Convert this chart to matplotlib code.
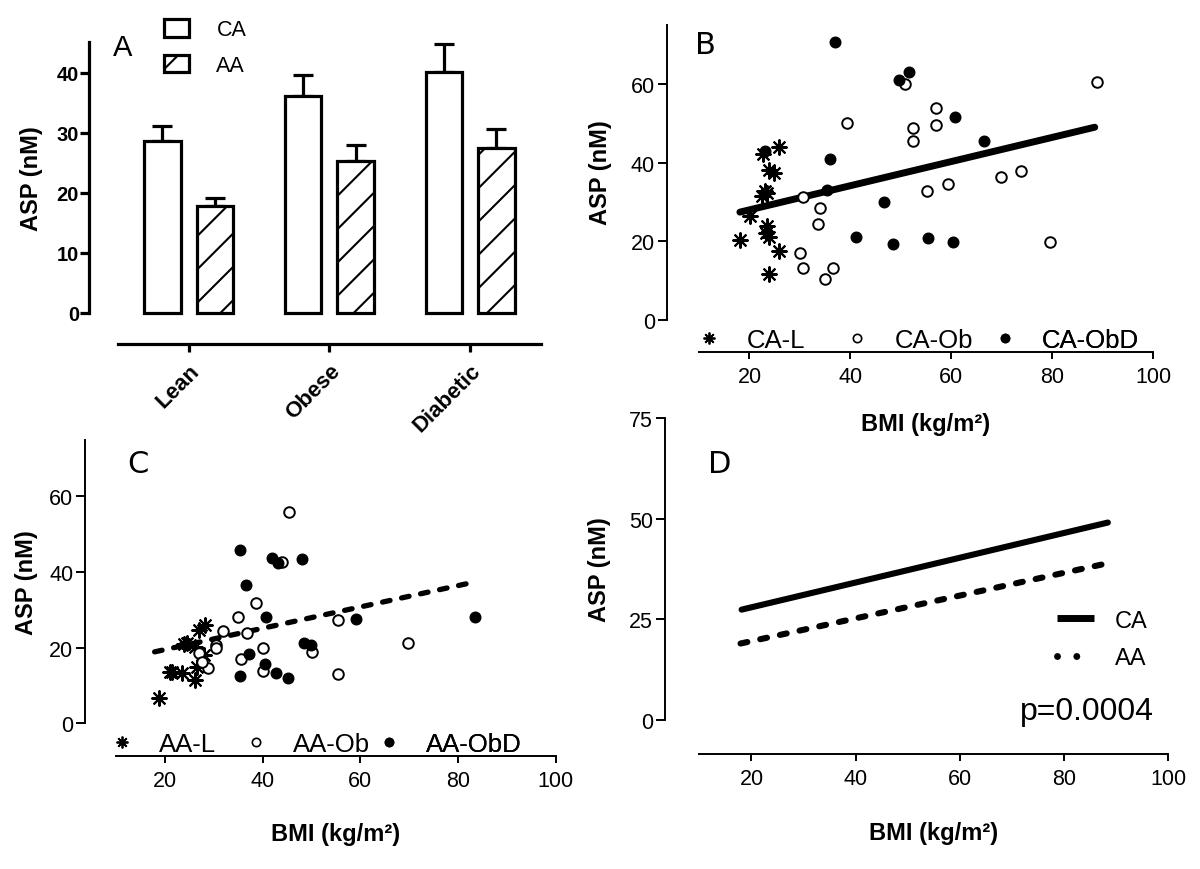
import matplotlib
matplotlib.use('Agg')
import matplotlib.pyplot as plt
from matplotlib.lines import Line2D
import numpy as np

plt.rcParams['font.family'] = ['Liberation Sans', 'DejaVu Sans']
plt.rcParams['hatch.linewidth'] = 1.5
plt.rcParams['lines.scale_dashes'] = False
plt.rcParams['axes.facecolor'] = 'none'

# ---------------- data ----------------
groups = ['Lean', 'Obese', 'Diabetic']
ca_mean = [28.7, 36.1, 40.1]
ca_sem = [2.5, 3.5, 4.8]
aa_mean = [17.9, 25.4, 27.5]
aa_sem = [1.3, 2.6, 3.1]

ca_l_bmi = [18.2, 20.1, 22.7, 25.9, 23.8, 24.8, 22.5, 23.1, 23.5, 23.4, 23.3, 23.8, 25.9, 23.8]
ca_l_asp = [20.4, 26.4, 42.2, 44.0, 38.1, 37.3, 31.6, 32.9, 32.2, 23.9, 22.2, 21.0, 17.6, 11.6]
ca_ob_bmi = [30.7, 30.0, 30.7, 35.0, 36.5, 33.9, 33.6, 39.3, 50.9, 57.0, 57.0, 52.3, 52.4,
             55.1, 59.3, 69.9, 73.7, 79.5, 88.8]
ca_ob_asp = [31.2, 16.9, 13.1, 10.5, 13.3, 28.4, 24.4, 50.1, 60.0, 54.0, 49.6, 48.7, 45.5,
             32.8, 34.5, 36.3, 37.9, 19.9, 60.4]
ca_obd_bmi = [37.0, 49.6, 51.6, 23.1, 36.0, 35.3, 60.7, 66.5, 46.6, 41.1, 48.5, 55.4, 60.4]
ca_obd_asp = [70.8, 61.1, 63.1, 43.0, 40.9, 33.1, 51.5, 45.4, 29.9, 21.1, 19.3, 20.7, 19.9]

aa_l_bmi = [18.8, 21.0, 21.5, 23.5, 26.1, 26.5, 24.0, 24.5, 26.2, 28.0, 27.0, 28.3]
aa_l_asp = [6.8, 13.5, 13.6, 13.4, 11.5, 14.8, 21.0, 21.3, 20.3, 18.0, 24.8, 26.0]
aa_ob_bmi = [45.5, 44.0, 38.6, 35.0, 32.0, 36.9, 55.4, 69.7, 40.1, 35.5, 50.2, 40.1, 55.4,
             28.9, 30.4, 30.4, 27.0, 27.5]
aa_ob_asp = [56.0, 42.7, 31.8, 28.2, 24.3, 23.9, 27.3, 21.3, 19.8, 17.1, 18.9, 13.9, 13.0,
             14.6, 20.7, 19.8, 18.7, 16.2]
aa_obd_bmi = [35.4, 41.9, 43.2, 48.1, 36.7, 40.8, 59.1, 83.5, 37.3, 48.4, 50.0, 40.4, 35.4, 42.8, 45.3]
aa_obd_asp = [45.8, 43.8, 42.5, 43.4, 36.7, 28.0, 27.5, 28.2, 18.4, 21.2, 20.8, 15.7, 12.4, 13.3, 12.0]

ca_fit_bmi = [18.1, 88.4]
ca_fit_asp = [27.4, 49.0]
aa_fit_bmi_c = [17.9, 83.5]
aa_fit_asp_c = [18.9, 37.4]
aa_fit_bmi_d = [17.9, 88.0]
aa_fit_asp_d = [19.0, 38.8]

bmi_ticks = [20, 40, 60, 80, 100]
p_text = 'p=0.0004'

# ---------------- figure ----------------
W, H = 1200, 870
fig = plt.figure(figsize=(W / 100, H / 100), dpi=100)


def add_axes_px(left, top, right, bottom):
    return fig.add_axes([left / W, 1 - bottom / H, (right - left) / W, (bottom - top) / H])


def px_to_axes(ax, xpx, ypx):
    return ax.transAxes.inverted().transform((xpx, H - ypx))


def fig_xy(xpx, ypx):
    return (xpx / W, 1 - ypx / H)


AST = (8, 2, 0)

# ================= Panel A =================
axA = add_axes_px(89.3, 43.3, 540.5, 345)
x = np.arange(len(groups))
off, bw = 0.187, 0.26
bars_ca = axA.bar(x - off, ca_mean, width=bw, color='white', edgecolor='black', linewidth=2.3, zorder=3)
bars_aa = axA.bar(x + off, aa_mean, width=bw, color='white', edgecolor='black', linewidth=2.3,
                  hatch='/', zorder=3)
axA.errorbar(x - off, ca_mean, yerr=[np.zeros(3), ca_sem], fmt='none', ecolor='black',
             elinewidth=2.3, capsize=7.4, capthick=2.3, zorder=2)
axA.errorbar(x + off, aa_mean, yerr=[np.zeros(3), aa_sem], fmt='none', ecolor='black',
             elinewidth=2.3, capsize=7.4, capthick=2.3, zorder=2)
axA.set_xlim(-0.706, 2.5)
axA.set_ylim(-5.17, 45.1)
for s in ['top', 'right']:
    axA.spines[s].set_visible(False)
axA.spines['left'].set_bounds(0, 45.1)
axA.spines['bottom'].set_bounds(-0.5, 2.5)
for s in ['left', 'bottom']:
    axA.spines[s].set_linewidth(2.3)
axA.set_yticks([0, 10, 20, 30, 40])
axA.set_xticks(x)
axA.set_xticklabels(groups, rotation=45, ha='right', va='top', rotation_mode='anchor',
                    fontweight='bold', fontsize=16)
axA.tick_params(axis='y', direction='out', length=6.5, width=2.3, labelsize=14.5, pad=1)
axA.tick_params(axis='x', direction='out', length=5.5, width=2.3, pad=6)
for t in axA.get_yticklabels():
    t.set_fontweight('bold')
axA.set_ylabel('ASP (nM)', fontsize=17, fontweight='bold')
axA.yaxis.set_label_coords(*px_to_axes(axA, 32, 178.7))
axA.yaxis.label.set_va('center')
axA.legend([bars_ca, bars_aa], ['CA', 'AA'], loc='upper left', bbox_to_anchor=fig_xy(164.3, 20),
           bbox_transform=fig.transFigure, frameon=False, fontsize=15.5, handlelength=1.17,
           handleheight=0.88, handletextpad=1.25, labelspacing=0.68, borderpad=0, borderaxespad=0)
fig.text(*fig_xy(113, 47.5), 'A', fontsize=21, va='center', ha='left')


# ================= scatter panels =================
def style_bmi_axes(ax, xlim_left, ylim_bottom, yticks, ytop=75):
    ax.set_xlim(xlim_left, 100)
    ax.set_ylim(ylim_bottom, ytop)
    for s in ['top', 'right']:
        ax.spines[s].set_visible(False)
    ax.spines['left'].set_bounds(0, ytop)
    ax.spines['bottom'].set_bounds(10, 100)
    for s in ['left', 'bottom']:
        ax.spines[s].set_linewidth(1.4)
    ax.set_yticks(yticks)
    ax.set_xticks(bmi_ticks)
    ax.tick_params(axis='y', direction='out', length=6.5, width=1.4, labelsize=15.5, pad=2)
    ax.tick_params(axis='x', direction='out', length=5, width=1.4, labelsize=15.5, pad=5)


def bmi_labels(ax, ylab_px, xlab_px):
    ax.set_ylabel('ASP (nM)', fontsize=17, fontweight='bold')
    ax.yaxis.set_label_coords(*px_to_axes(ax, *ylab_px))
    ax.yaxis.label.set_va('center')
    ax.set_xlabel('BMI (kg/m²)', fontsize=17, fontweight='bold')
    ax.xaxis.set_label_coords(*px_to_axes(ax, *xlab_px))
    ax.xaxis.label.set_va('center')


def scatter_groups(ax, l, ob, obd):
    ax.scatter(l[0], l[1], marker=AST, s=110, c='black', linewidths=1.5, zorder=4)
    ax.scatter(ob[0], ob[1], marker='o', s=58, facecolors='white', edgecolors='black',
               linewidths=1.4, zorder=4)
    ax.scatter(obd[0], obd[1], marker='o', s=58, c='black', edgecolors='black', zorder=4)


def group_legend(ax, labels, marker_px, ypx):
    handles = [Line2D([], [], ls='none', marker=AST, ms=8.5, mew=1.3, color='black'),
               Line2D([], [], ls='none', marker='o', ms=6.0, mew=1.2, mfc='white', mec='black'),
               Line2D([], [], ls='none', marker='o', ms=6.0, mfc='black', mec='black')]
    fs = 18.5
    fs_px = fs * 100 / 72
    pad = (37.0 - fs_px / 2) / fs_px
    for h, lab, mx in zip(handles, labels, marker_px):
        leg = ax.legend([h], [lab], loc='center left',
                        bbox_to_anchor=fig_xy(mx - fs_px / 2, ypx), bbox_transform=fig.transFigure,
                        frameon=False, fontsize=fs, handlelength=1.0, handletextpad=pad,
                        borderpad=0, borderaxespad=0, numpoints=1)
        ax.add_artist(leg)


# ================= Panel B =================
axB = add_axes_px(666.7, 26, 1153.3, 352.7)
scatter_groups(axB, (ca_l_bmi, ca_l_asp), (ca_ob_bmi, ca_ob_asp), (ca_obd_bmi, ca_obd_asp))
axB.plot(ca_fit_bmi, ca_fit_asp, color='black', lw=5, solid_capstyle='round', zorder=3)
style_bmi_axes(axB, 3.6, -8.1, [0, 20, 40, 60])
bmi_labels(axB, (600, 173), (926, 425))
group_legend(axB, ['CA-L', 'CA-Ob', 'CA-ObD'], [709.3, 857.3, 1005], 340.7)
fig.text(*fig_xy(695, 46), 'B', fontsize=22, va='center', ha='left', family='DejaVu Sans')

# ================= Panel C =================
axC = add_axes_px(85, 440.7, 555.7, 756.7)
scatter_groups(axC, (aa_l_bmi, aa_l_asp), (aa_ob_bmi, aa_ob_asp), (aa_obd_bmi, aa_obd_asp))
axC.plot(aa_fit_bmi_c, aa_fit_asp_c, color='black', lw=3.8, dashes=(5.5, 8.5),
         dash_capstyle='round', zorder=3)
style_bmi_axes(axC, 3.65, -8.56, [0, 20, 40, 60])
bmi_labels(axC, (26, 582.5), (336, 835))
group_legend(axC, ['AA-L', 'AA-Ob', 'AA-ObD'], [121.7, 255.7, 389], 745)
fig.text(*fig_xy(127, 465), 'C', fontsize=22, va='center', ha='left', family='DejaVu Sans')

# ================= Panel D =================
axD = add_axes_px(665, 418.7, 1168.3, 755)
lca, = axD.plot(ca_fit_bmi, ca_fit_asp, color='black', lw=4.4, solid_capstyle='round')
laa, = axD.plot(aa_fit_bmi_d, aa_fit_asp_d, color='black', lw=4.4, dashes=(5, 9.5),
                dash_capstyle='round')
style_bmi_axes(axD, 3.4, -8.4, [0, 25, 50, 75])
bmi_labels(axD, (600, 570), (934, 834))
h_ca = Line2D([], [], color='black', lw=5, solid_capstyle='butt')
h_aa = Line2D([], [], color='black', lw=5, dashes=(0.01, 13.9), dash_capstyle='round')
axD.legend([h_ca, h_aa], ['CA', 'AA'], loc='upper left', bbox_to_anchor=fig_xy(1056.7, 610.5),
           bbox_transform=fig.transFigure, frameon=False, fontsize=17, handlelength=1.6,
           handletextpad=0.85, labelspacing=0.67, borderpad=0, borderaxespad=0)
axD.text(*px_to_axes(axD, 1020, 711.7), p_text, transform=axD.transAxes, fontsize=23,
         ha='left', va='center')
fig.text(*fig_xy(708, 465), 'D', fontsize=22, va='center', ha='left', family='DejaVu Sans')

fig.savefig('out.png', dpi=100)
